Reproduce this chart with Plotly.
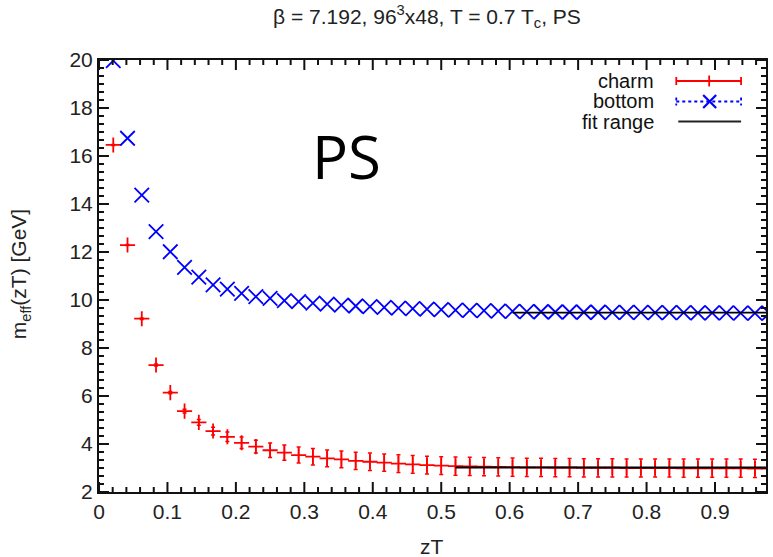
import plotly.graph_objects as go

# Effective mass m_eff(zT) for the pseudoscalar channel, Nt = 48
NT = 48
steps = list(range(1, 48))
zT = [n / NT for n in steps]

charm = [16.46, 12.29, 9.22, 7.29, 6.14, 5.37, 4.90, 4.54, 4.30, 4.05,
         3.89, 3.74, 3.64, 3.54, 3.47, 3.40, 3.36, 3.30, 3.26, 3.22,
         3.18, 3.15, 3.12, 3.10, 3.08, 3.07, 3.06, 3.05, 3.04, 3.03,
         3.03, 3.02, 3.02, 3.01, 3.01, 3.01, 3.00, 3.00, 3.00, 3.00,
         2.99, 2.99, 2.99, 2.99, 2.99, 2.98, 2.98]

charm_err = [0.02, 0.02, 0.03, 0.04, 0.05, 0.08, 0.12, 0.16, 0.20, 0.24,
             0.27, 0.30, 0.32, 0.33, 0.34, 0.35, 0.35, 0.36, 0.36, 0.36,
             0.37, 0.37, 0.37, 0.37, 0.38, 0.38, 0.38, 0.38, 0.38, 0.38,
             0.38, 0.38, 0.38, 0.38, 0.38, 0.38, 0.38, 0.38, 0.38, 0.38,
             0.38, 0.38, 0.38, 0.38, 0.38, 0.38, 0.38]

bottom = [19.97, 16.74, 14.37, 12.85, 12.01, 11.36, 10.95, 10.63, 10.45, 10.28,
          10.14, 10.07, 9.97, 9.93, 9.87, 9.83, 9.79, 9.75, 9.72, 9.69,
          9.66, 9.64, 9.62, 9.60, 9.58, 9.57, 9.56, 9.54, 9.53, 9.52,
          9.51, 9.50, 9.50, 9.49, 9.49, 9.48, 9.48, 9.48, 9.47, 9.47,
          9.47, 9.46, 9.46, 9.46, 9.45, 9.45, 9.45]

# plateau fits: (first step, last step, fitted mass)
charm_fit = (25, 47, 3.02)
bottom_fit = (29, 47, 9.47)

X_RANGE = [0, 0.9745]
Y_RANGE = [2, 20]
x_major = [0, 0.1, 0.2, 0.3, 0.4, 0.5, 0.6, 0.7, 0.8, 0.9]
y_major = [2, 4, 6, 8, 10, 12, 14, 16, 18, 20]
x_minor = [k * 0.02 for k in range(0, 49)]
y_minor = [2 + k / 3 for k in range(0, 55)]

RED = "#ff0000"
BLUE = "#0000ff"
FONT = "Liberation Sans, Arial, sans-serif"
FS = 21

# plot frame in pixels (used for placing the key, labels and tick lengths)
W, H = 773, 557
L, R, T, B = 99, 768, 60, 492
PW, PH = R - L, B - T


def paper(px, py):
    return (px - L) / PW, (B - py) / PH


fig = go.Figure()

fig.add_trace(go.Scatter(
    x=zT, y=charm, mode="markers", name="charm",
    error_y=dict(type="data", array=charm_err, color=RED, thickness=1.5,
                 width=2),
    marker=dict(symbol="cross-thin", size=10.8, color=RED,
                line=dict(color=RED, width=1.8)),
))
fig.add_trace(go.Scatter(
    x=zT, y=bottom, mode="markers", name="bottom",
    marker=dict(symbol="x-thin", size=14.5, color=BLUE,
                line=dict(color=BLUE, width=1.8)),
))

for n0, n1, m in (charm_fit, bottom_fit):
    fig.add_trace(go.Scatter(
        x=[n0 / NT, n1 / NT], y=[m, m], mode="lines",
        line=dict(color="black", width=1.8), showlegend=False,
    ))

# inward tick marks on all four sides, drawn as one line trace
x0, x1 = X_RANGE
y0, y1 = Y_RANGE
px_x = (x1 - x0) / PW   # data units per pixel along x
px_y = (y1 - y0) / PH   # data units per pixel along y


def is_major(v, majors):
    return any(abs(v - m) < 1e-9 for m in majors)


tick_xs, tick_ys = [], []
for v in x_minor:
    if v > x1:
        continue
    n = 10 if is_major(v, x_major) else 5
    tick_xs += [v, v, None, v, v, None]
    tick_ys += [y0, y0 + n * px_y, None, y1, y1 - n * px_y, None]
for v in y_minor:
    if v > y1 + 1e-9:
        continue
    n = 10 if is_major(v, y_major) else 5
    tick_xs += [x0, x0 + n * px_x, None, x1, x1 - n * px_x, None]
    tick_ys += [v, v, None, v, v, None]

fig.add_trace(go.Scatter(
    x=tick_xs, y=tick_ys, mode="lines", connectgaps=False,
    line=dict(color="#111111", width=2), hoverinfo="skip", showlegend=False,
))

shapes = []


def seg(p0, p1, color, width=1.5, dash="solid"):
    a0, b0 = paper(*p0)
    a1, b1 = paper(*p1)
    shapes.append(dict(type="line", xref="paper", yref="paper",
                       x0=a0, y0=b0, x1=a1, y1=b1,
                       line=dict(color=color, width=width, dash=dash)))


# key: charm (error bar style with + marker)
ky = 81
seg((678, ky), (743, ky), RED, width=1.8)
seg((678, ky - 4), (678, ky + 4), RED, width=1.8)
seg((743, ky - 4), (743, ky + 4), RED, width=1.8)
seg((711, ky - 5.5), (711, ky + 5.5), RED, width=1.8)
# key: bottom (dotted error bar with x marker)
ky = 101.5
seg((678, ky), (743, ky), BLUE, width=1.8, dash="dot")
seg((678, ky - 4), (678, ky + 4), BLUE, width=1.8, dash="dot")
seg((743, ky - 4), (743, ky + 4), BLUE, width=1.8, dash="dot")
seg((705, ky - 6.5), (718, ky + 6.5), BLUE, width=2.2)
seg((705, ky + 6.5), (718, ky - 6.5), BLUE, width=2.2)
# key: fit range
ky = 121.5
seg((680, ky), (743, ky), "#222222", width=1.8)

annotations = []
for label, py in (("charm", 81.5), ("bottom", 101.5), ("fit range", 121.5)):
    ax_, ay_ = paper(658, py)
    annotations.append(dict(text=label, x=ax_, y=ay_, xref="paper",
                            yref="paper", xanchor="right", yanchor="middle",
                            showarrow=False,
                            font=dict(family=FONT, size=20, color="#111")))

ax_, ay_ = paper(428, 16)
annotations.append(dict(
    text="β = 7.192, 96<sup>3</sup>x48, T = 0.7 T<sub>c</sub>, PS",
    x=ax_, y=ay_, xref="paper", yref="paper", xanchor="center",
    yanchor="middle", showarrow=False,
    font=dict(family=FONT, size=FS, color="#222")))

ax_, ay_ = paper(433, 546)
annotations.append(dict(text="zT", x=ax_, y=ay_, xref="paper", yref="paper",
                        xanchor="center", yanchor="middle", showarrow=False,
                        font=dict(family=FONT, size=FS, color="#222")))

ax_, ay_ = paper(20, 274)
annotations.append(dict(text="m<sub>eff</sub>(zT) [GeV]", x=ax_, y=ay_,
                        xref="paper", yref="paper", textangle=-90,
                        xanchor="center", yanchor="middle", showarrow=False,
                        font=dict(family=FONT, size=FS, color="#222")))

ax_, ay_ = paper(347, 156)
annotations.append(dict(text="PS", x=ax_, y=ay_, xref="paper", yref="paper",
                        xanchor="center", yanchor="middle", showarrow=False,
                        font=dict(family="Open Sans, sans-serif", size=60,
                                  color="black")))

axis_common = dict(
    showline=True, linecolor="#111111", linewidth=2, mirror=True,
    ticks="inside", ticklen=10, tickcolor="rgba(0,0,0,0)",
    showgrid=False, zeroline=False,
    tickfont=dict(family=FONT, size=FS, color="#222"),
)

fig.update_layout(
    width=W, height=H,
    margin=dict(l=L, r=W - R, t=T, b=H - B),
    paper_bgcolor="white", plot_bgcolor="white",
    showlegend=False,
    shapes=shapes, annotations=annotations,
    xaxis=dict(range=X_RANGE, tickvals=x_major,
               ticktext=[f"{v:g}" for v in x_major], **axis_common),
    yaxis=dict(range=Y_RANGE, tickvals=y_major,
               ticktext=[f"{v:g}" for v in y_major], **axis_common),
)

fig.write_html("out.html")
